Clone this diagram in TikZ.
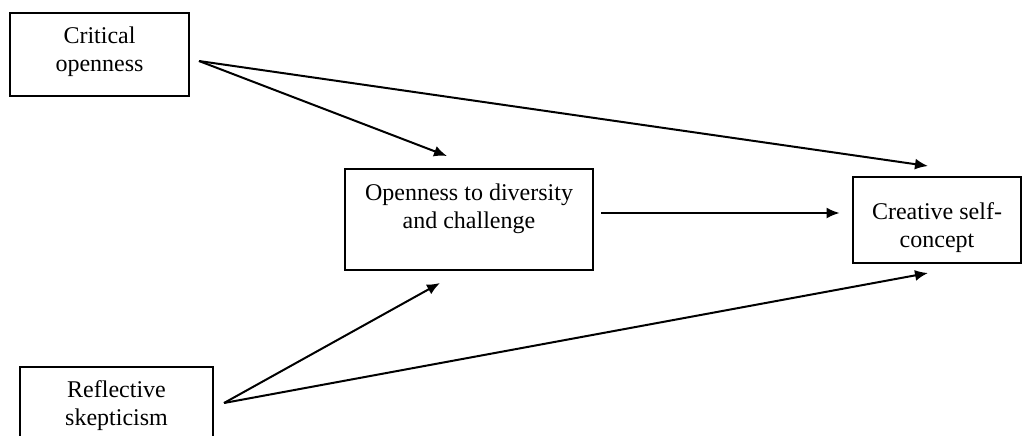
\documentclass[tikz,border=0pt]{standalone}
\usepackage{fontspec}
\setmainfont{Liberation Serif}
\usetikzlibrary{arrows.meta}
\tikzset{> = {Latex[length=6.5pt,width=5.5pt]}}
\newcommand{\boxtext}[4]{\parbox[c][#2][t]{#1}{\centering\vspace*{#3}#4\par}}

\begin{document}
\begin{tikzpicture}[x=.5pt,y=-.5pt,line width=1pt,
	box/.style={draw,inner sep=0pt,font=\fontsize{12}{14}\selectfont}]
	\useasboundingbox (0,0) rectangle (1022,435);
	\clip (0,0) rectangle (1022,435);
	\node[box] (crit) at (99.5,54.5) {\boxtext{89.5pt}{41.5pt}{6.8pt}{Critical\\openness}};
	\node[box] (mid) at (469,219.5) {\boxtext{124pt}{50.5pt}{7.3pt}{Openness to diversity\\and challenge}};
	\node[box] (creat) at (937,220) {\boxtext{84pt}{43pt}{12.8pt}{Creative self-\\concept}};
	\node[box] (refl) at (116.5,408.5) {\boxtext{96.5pt}{41.5pt}{6.8pt}{Reflective\\skepticism}};
	\draw[->] ([xshift=4.5pt,yshift=-3.25pt]crit.east)--([xshift=-11pt,yshift=6pt]mid.north);
	\draw[->] ([xshift=4.5pt,yshift=-3.25pt]crit.east)--([xshift=-4.5pt,yshift=5pt]creat.north);
	\draw[->] ([xshift=3.5pt,yshift=3.25pt]mid.east)--([xshift=-6.2pt,yshift=3.5pt]creat.west);
	\draw[->] ([xshift=5pt,yshift=2.75pt]refl.east)--([xshift=-14.5pt,yshift=-6pt]mid.south);
	\draw[->] ([xshift=5pt,yshift=2.75pt]refl.east)--([xshift=-4.5pt,yshift=-4.5pt]creat.south);
\end{tikzpicture}
\end{document}
